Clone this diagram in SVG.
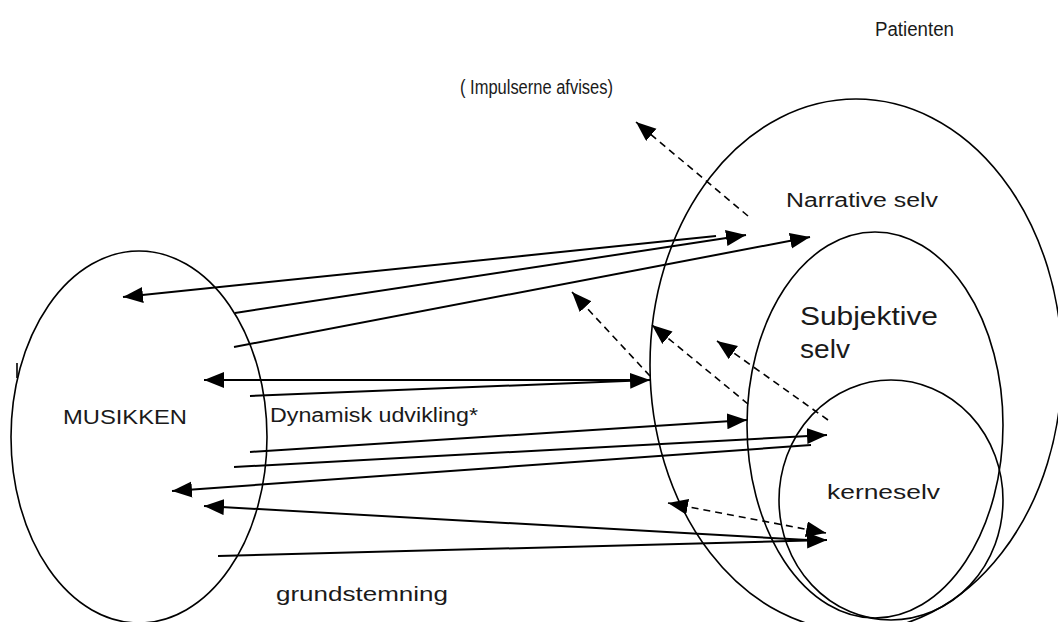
<svg xmlns="http://www.w3.org/2000/svg" width="1058" height="622" viewBox="0 0 1058 622">
  <defs>
    <marker id="ah" markerUnits="userSpaceOnUse" markerWidth="22" markerHeight="18" refX="20" refY="8" orient="auto-start-reverse">
      <path d="M0,0 L20,8 L0,16 z" fill="#000"/>
    </marker>
  </defs>
  <style>
    .ring { fill: none; stroke: #000; stroke-width: 1.6; }
    .ln { fill: none; stroke: #000; stroke-width: 2; }
    .dash { fill: none; stroke: #000; stroke-width: 1.6; stroke-dasharray: 7 5; }
    .t { font-family: "Liberation Sans", Arial, sans-serif; fill: #1a1a1a; }
  </style>
  <rect width="1058" height="622" fill="#fff"/>

  <!-- Music -->
  <g id="musikken">
    <ellipse class="ring" cx="139" cy="437" rx="128" ry="186"/>
    <line class="ring" x1="17" y1="363" x2="17" y2="378"/>
    <text class="t" x="63" y="424" font-size="21" textLength="124" lengthAdjust="spacingAndGlyphs">MUSIKKEN</text>
  </g>

  <!-- Patient: nested selves -->
  <g id="patienten">
    <ellipse class="ring" cx="856" cy="365" rx="206" ry="266"/>
    <text class="t" x="875" y="36" font-size="20" textLength="79" lengthAdjust="spacingAndGlyphs">Patienten</text>
  </g>
  <g id="narrative-selv">
    <text class="t" x="786" y="207" font-size="20" textLength="152" lengthAdjust="spacingAndGlyphs">Narrative selv</text>
  </g>
  <g id="subjektive-selv">
    <ellipse class="ring" cx="875" cy="425" rx="128" ry="193"/>
    <text class="t" x="800" y="325" font-size="26" textLength="138" lengthAdjust="spacingAndGlyphs">Subjektive</text>
    <text class="t" x="800" y="358" font-size="26" textLength="50" lengthAdjust="spacingAndGlyphs">selv</text>
  </g>
  <g id="kerneselv">
    <ellipse class="ring" cx="891" cy="500" rx="112" ry="120"/>
    <text class="t" x="827" y="499" font-size="20" textLength="113" lengthAdjust="spacingAndGlyphs">kerneselv</text>
  </g>

  <!-- Free labels -->
  <g id="labels">
    <text class="t" x="460" y="94" font-size="20" textLength="153" lengthAdjust="spacingAndGlyphs">( Impulserne afvises)</text>
    <text class="t" x="270" y="422" font-size="20" textLength="208" lengthAdjust="spacingAndGlyphs">Dynamisk udvikling*</text>
    <text class="t" x="276" y="601" font-size="20" textLength="172" lengthAdjust="spacingAndGlyphs">grundstemning</text>
  </g>

  <!-- Connectors -->
  <g id="connectors">
    <line class="ln" x1="716" y1="236" x2="123" y2="297" marker-end="url(#ah)"/>
    <line class="ln" x1="235" y1="313" x2="746" y2="235" marker-end="url(#ah)"/>
    <line class="ln" x1="234" y1="347" x2="810" y2="237" marker-end="url(#ah)"/>
    <line class="ln" x1="645" y1="380" x2="204" y2="380" marker-end="url(#ah)"/>
    <line class="ln" x1="250" y1="396" x2="650" y2="380" marker-end="url(#ah)"/>
    <line class="ln" x1="250" y1="452" x2="747" y2="420" marker-end="url(#ah)"/>
    <line class="ln" x1="234" y1="467" x2="827" y2="435" marker-end="url(#ah)"/>
    <line class="ln" x1="811" y1="445" x2="172" y2="491" marker-end="url(#ah)"/>
    <line class="ln" x1="808" y1="540" x2="204" y2="506" marker-end="url(#ah)"/>
    <line class="ln" x1="218" y1="556" x2="827" y2="540" marker-end="url(#ah)"/>

    <line class="dash" x1="748" y1="216" x2="636" y2="122" marker-end="url(#ah)"/>
    <line class="dash" x1="650" y1="376" x2="572" y2="292" marker-end="url(#ah)"/>
    <line class="dash" x1="748" y1="404" x2="652" y2="325" marker-end="url(#ah)"/>
    <line class="dash" x1="828" y1="420" x2="717" y2="341" marker-end="url(#ah)"/>
    <line class="dash" x1="668" y1="503" x2="826" y2="533" marker-start="url(#ah)" marker-end="url(#ah)"/>
  </g>
</svg>
